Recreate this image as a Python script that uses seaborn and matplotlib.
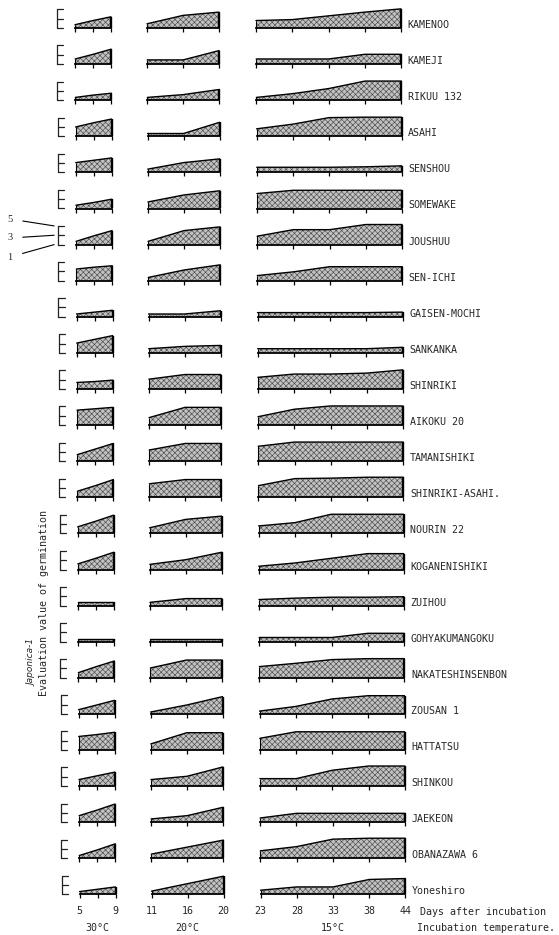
import pandas as pd
import matplotlib
matplotlib.use("Agg")
import matplotlib.pyplot as plt
import matplotlib.transforms as mtrans
import seaborn as sns

sns.set_theme(style="white")
plt.rcParams['font.family'] = ['DejaVu Sans Mono', 'DejaVu Sans']
plt.rcParams['hatch.linewidth'] = 0.45

# ===============================
# Data
# ===============================

varieties = ["KAMENOO", "KAMEJI", "RIKUU 132", "ASAHI", "SENSHOU", "SOMEWAKE",
             "JOUSHUU", "SEN-ICHI", "GAISEN-MOCHI", "SANKANKA", "SHINRIKI",
             "AIKOKU 20", "TAMANISHIKI", "SHINRIKI-ASAHI.", "NOURIN 22",
             "KOGANENISHIKI", "ZUIHOU", "GOHYAKUMANGOKU", "NAKATESHINSENBON",
             "ZOUSAN 1", "HATTATSU", "SHINKOU", "JAEKEON", "OBANAZAWA 6",
             "Yoneshiro"]

days_30 = ["5", "", "9"]
days_20 = ["11", "16", "20"]
days_15 = ["23", "28", "33", "38", "44"]

temps = ["30°C", "20°C", "15°C"]

# evaluation value of germination (1-5) per variety
val_30 = [
    [1.7, 2.6, 3.4], [2.1, 3.1, 4.2], [1.6, 2.1, 2.5], [3.0, 3.9, 4.7],
    [3.1, 3.6, 4.1], [1.7, 2.3, 3.0], [1.7, 2.9, 4.0], [3.5, 3.9, 4.2],
    [1.6, 2.0, 2.4], [3.1, 3.9, 4.7], [2.4, 2.6, 2.9], [4.2, 4.5, 4.8],
    [2.4, 3.6, 4.8], [2.3, 3.5, 4.8], [2.4, 3.6, 4.9], [2.2, 3.4, 4.7],
    [1.8, 1.8, 1.8], [1.6, 1.6, 1.6], [2.1, 3.4, 4.6], [1.9, 2.9, 3.9],
    [3.9, 4.3, 4.8], [2.4, 3.2, 4.0], [2.4, 3.6, 4.9], [1.6, 2.8, 4.1],
    [1.6, 2.1, 2.6],
]
val_20 = [
    [1.9, 3.7, 4.4], [1.9, 1.9, 3.9], [1.6, 2.2, 3.3], [1.6, 1.6, 4.0],
    [1.7, 3.1, 3.9], [2.4, 3.9, 4.8], [1.7, 4.0, 4.8], [1.7, 3.3, 4.4],
    [1.6, 1.6, 2.3], [1.9, 2.4, 2.6], [3.1, 4.1, 4.1], [2.6, 4.8, 4.8],
    [3.4, 4.8, 4.8], [3.9, 4.8, 4.8], [2.2, 4.0, 4.7], [2.1, 3.1, 4.7],
    [1.7, 2.5, 2.5], [1.6, 1.6, 1.6], [3.1, 4.8, 4.8], [1.4, 2.9, 4.7],
    [2.3, 4.7, 4.7], [2.4, 3.1, 5.1], [1.7, 2.4, 4.2], [1.9, 3.4, 4.9],
    [1.7, 3.3, 4.9],
]
val_15 = [
    [2.6, 2.8, 3.6, 4.4, 5.1], [2.1, 2.1, 2.1, 3.1, 3.1],
    [1.6, 2.4, 3.5, 5.1, 5.1], [2.6, 3.6, 5.0, 5.1, 5.1],
    [2.1, 2.1, 2.1, 2.2, 2.4], [4.2, 4.9, 4.9, 4.9, 4.9],
    [2.8, 4.2, 4.2, 5.3, 5.3], [2.1, 2.9, 4.0, 4.0, 4.0],
    [1.9, 1.9, 1.9, 1.9, 2.0], [1.9, 1.9, 1.9, 1.9, 2.2],
    [3.5, 4.2, 4.2, 4.4, 5.1], [2.8, 4.4, 5.1, 5.1, 5.1],
    [4.2, 5.1, 5.1, 5.1, 5.1], [3.5, 5.0, 5.1, 5.3, 5.3],
    [2.6, 3.3, 5.1, 5.1, 5.1], [1.7, 2.4, 3.4, 4.4, 4.4],
    [2.3, 2.6, 2.8, 2.8, 2.9], [1.9, 1.9, 1.9, 2.8, 2.8],
    [3.4, 4.1, 4.9, 5.1, 5.1], [1.6, 2.6, 4.2, 4.9, 4.9],
    [3.5, 4.9, 4.9, 4.9, 4.9], [2.6, 2.6, 4.4, 5.3, 5.3],
    [1.9, 2.9, 2.9, 2.9, 2.9], [2.6, 3.5, 5.1, 5.3, 5.3],
    [1.9, 2.6, 2.6, 4.2, 4.4],
]

# ===============================
# Layout (pixels)
# ===============================

W, H = 559, 935
fig = plt.figure(figsize=(W / 100, H / 100), dpi=100)

first_base = 28
row_step = 36.1
unit_px = 4.67
ax_h = 24
drift = 4.5

panels = [
    (days_30, val_30, 75, 36),
    (days_20, val_20, 147, 72),
    (days_15, val_15, 256, 145),
]

fill_col = "#c2c2c2"
hatch_col = "#4a4a4a"
n_rows = len(varieties)

for i, name in enumerate(varieties):
    base = first_base + row_step * i
    shift = drift * i / (n_rows - 1)
    last = i == n_rows - 1
    for j, (labels, vals, left, width) in enumerate(panels):
        ax = fig.add_axes([(left + shift) / W, 1 - base / H, width / W, ax_h / H])
        ax.patch.set_alpha(0)
        v = vals[i]
        n = len(v)
        df = pd.DataFrame({"pos": range(n), "ev": v})
        ax.fill_between(df["pos"], 1, df["ev"], facecolor=fill_col,
                        edgecolor=hatch_col, hatch="xxxxxx", linewidth=0)
        sns.lineplot(data=df, x="pos", y="ev", ax=ax, color="black",
                     linewidth=1.0, clip_on=False)
        ax.vlines(0, 1, v[0], color="black", linewidth=0.8, clip_on=False)
        ax.vlines(n - 1, 1, v[-1], color="black", linewidth=1.7, clip_on=False)
        ax.set_xlim(0, n - 1)
        ax.set_ylim(1, 1 + ax_h / unit_px)
        for s in ["left", "right", "top"]:
            ax.spines[s].set_visible(False)
        ax.spines["bottom"].set_linewidth(1.3)
        ax.spines["bottom"].set_color("black")
        ax.set_yticks([])
        ax.set_xticks(range(n))
        ax.set_xticklabels(labels if last else [""] * n, fontsize=7.2)
        ax.tick_params(axis="x", bottom=True, direction="out", length=3.2,
                       width=0.9, color="black", pad=5)
        ax.set_xlabel("")
        ax.set_ylabel("")

        if j == 0:
            # the E shaped scale at 1, 3, 5
            tr = mtrans.blended_transform_factory(ax.transAxes, ax.transData)
            ex0, ex1 = -18 / width, -12 / width
            ax.plot([ex0, ex0], [1, 5], color="#222222", lw=0.9,
                    transform=tr, clip_on=False)
            for yv in [1, 3, 5]:
                ax.plot([ex0, ex1], [yv, yv], color="#222222", lw=0.9,
                        transform=tr, clip_on=False)
            if name == "JOUSHUU":
                for yv, ty in [(5, 219), (3, 238), (1, 257)]:
                    ax.annotate(str(yv), xy=(-22 / width, yv), xycoords=tr,
                                xytext=(10, H - ty), textcoords="figure pixels",
                                ha="center", va="center", fontsize=7.5,
                                family="Liberation Serif",
                                arrowprops=dict(arrowstyle="-", lw=0.8,
                                                color="black", shrinkA=5,
                                                shrinkB=0))
        if j == 2:
            fig.text((left + shift + width + 6.5) / W, 1 - (base - 3) / H,
                     name, fontsize=7.2, ha="left", va="center")

# bottom captions
shift = drift
for (labels, vals, left, width), t in zip(panels, temps):
    fig.text((left + shift + width / 2) / W, 1 - 928 / H, t,
             fontsize=7.2, ha="center", va="center")

fig.text(420 / W, 1 - 912 / H, "Days after incubation",
         fontsize=7.2, ha="left", va="center")
fig.text(417 / W, 1 - 928 / H, "Incubation temperature.",
         fontsize=7.2, ha="left", va="center")

fig.text(44 / W, 1 - 696 / H, "Evaluation value of germination",
         rotation=90, fontsize=7.2, ha="center", va="bottom")
fig.text(32 / W, 1 - 686 / H, "Japonica-1", rotation=90, fontsize=6.5,
         style="italic", family="DejaVu Sans", ha="center", va="bottom")

fig.savefig("out.png", dpi=100)
